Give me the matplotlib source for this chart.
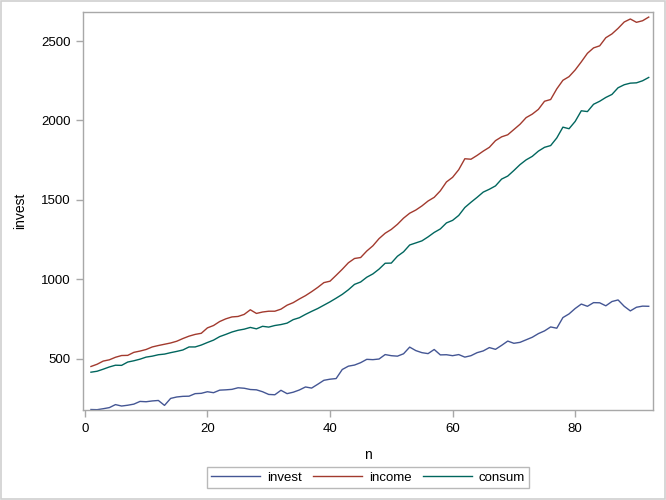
import matplotlib.pyplot as plt
import numpy as np

plt.rcParams['font.family'] = ['Liberation Sans', 'DejaVu Sans']

# West German quarterly series (n = 1..92)
invest = [180, 179, 185, 192, 211, 202, 207, 214, 231, 229, 234, 237, 206, 250, 259, 263,
          264, 280, 282, 292, 286, 302, 304, 307, 317, 314, 306, 304, 292, 275, 273, 301,
          280, 289, 303, 322, 315, 339, 364, 371, 375, 432, 453, 460, 475, 496, 494, 498,
          526, 519, 516, 531, 573, 551, 538, 532, 558, 524, 525, 519, 526, 510, 519, 538,
          549, 570, 559, 584, 611, 597, 603, 619, 635, 658, 675, 700, 692, 759, 782, 816,
          844, 830, 853, 852, 833, 860, 870, 830, 801, 824, 831, 830]
income = [451, 465, 485, 493, 509, 520, 521, 540, 548, 558, 574, 583, 591, 599, 610, 627,
          642, 653, 660, 694, 709, 734, 751, 763, 766, 779, 808, 785, 794, 799, 799, 812,
          837, 853, 876, 897, 922, 949, 979, 988, 1025, 1063, 1104, 1131, 1137, 1178, 1211, 1256,
          1290, 1314, 1346, 1385, 1416, 1436, 1462, 1493, 1516, 1557, 1613, 1642, 1690, 1759,
          1756, 1780, 1807, 1831, 1873, 1897, 1910, 1943, 1976, 2018, 2040, 2070, 2121, 2132,
          2199, 2253, 2276, 2318, 2369, 2423, 2457, 2470, 2521, 2545, 2580, 2620, 2639, 2618,
          2628, 2651]
consum = [415, 421, 434, 448, 459, 458, 479, 487, 497, 510, 516, 525, 529, 538, 546, 555,
          574, 574, 586, 602, 617, 639, 653, 668, 679, 686, 697, 688, 704, 699, 709, 715,
          724, 746, 758, 779, 798, 816, 837, 858, 881, 905, 934, 968, 983, 1013, 1034, 1064,
          1101, 1102, 1145, 1173, 1216, 1229, 1242, 1267, 1295, 1317, 1355, 1371, 1402, 1452,
          1485, 1516, 1549, 1567, 1588, 1631, 1650, 1685, 1722, 1752, 1774, 1807, 1831, 1842,
          1890, 1958, 1948, 1994, 2061, 2056, 2102, 2121, 2145, 2164, 2206, 2225, 2235, 2237,
          2250, 2271]
n = np.arange(1, len(invest) + 1)

fig = plt.figure(figsize=(6.66, 5.0), dpi=100)
ax = fig.add_axes([0.1246, 0.18, 0.8559, 0.796])

ax.plot(n, invest, color='#445694', lw=1.0, label='invest')
ax.plot(n, income, color='#A23A2E', lw=1.0, label='income')
ax.plot(n, consum, color='#01665E', lw=1.0, label='consum')

ax.set_xlim(-0.3, 92.7)
ax.set_ylim(177, 2683)
ax.set_xticks([0, 20, 40, 60, 80])
ax.set_yticks([500, 1000, 1500, 2000, 2500])

for s in ax.spines.values():
    s.set_color('#A8A8A8')
    s.set_linewidth(1.0)
ax.tick_params(colors='#A8A8A8', labelcolor='black', length=5, width=1.0,
               labelsize=9.5, pad=4)

ax.set_xlabel('n', fontsize=10, labelpad=10)
ax.set_ylabel('invest', fontsize=10, labelpad=10)

leg = fig.legend(loc='center', bbox_to_anchor=(0.5526, 0.045), ncol=3, fontsize=9.5,
                 frameon=True, fancybox=False, handlelength=3.7, handletextpad=0.55,
                 columnspacing=0.85, borderpad=0.3, borderaxespad=0)
leg.get_frame().set_edgecolor('#A8A8A8')
leg.get_frame().set_linewidth(1.0)

# thin grey border around the whole image
fig.patches.append(plt.Rectangle((0.0015, 0.002), 0.997, 0.996, transform=fig.transFigure,
                                 fill=False, edgecolor='#D0D0D0', lw=1.2))

fig.savefig('out.png', dpi=100)
